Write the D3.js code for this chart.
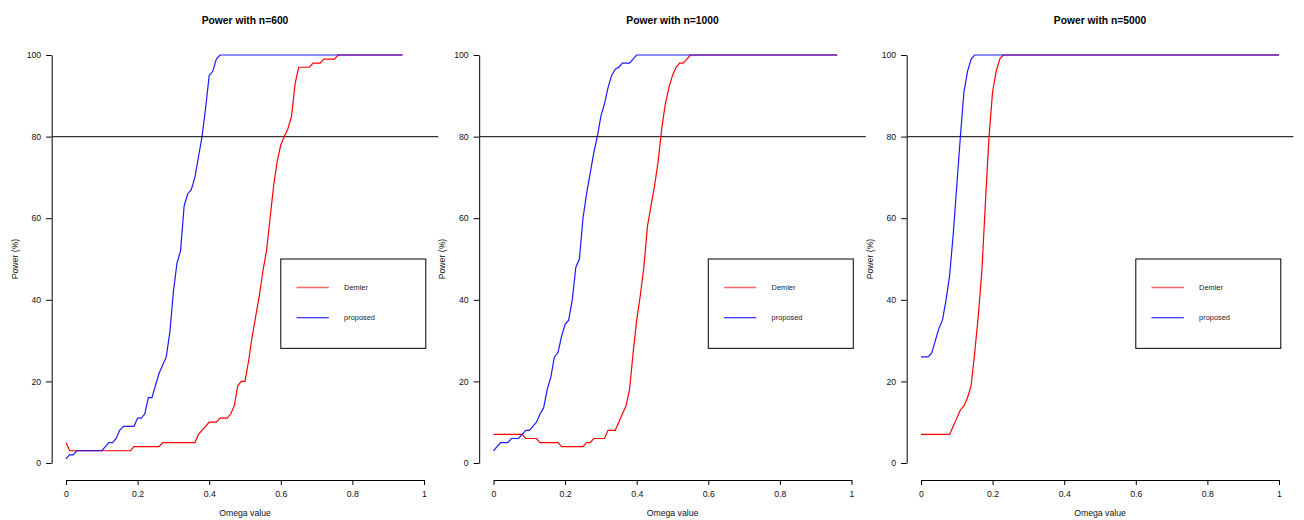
<!DOCTYPE html>
<html>
<head>
<meta charset="utf-8">
<script src="https://cdn.jsdelivr.net/npm/d3@7"></script>
<style>
  html, body { margin: 0; padding: 0; background: #fff; }
  svg { display: block; font-family: "Liberation Sans", Arial, Helvetica, sans-serif; }
</style>
</head>
<body>
<svg id="chart" width="1304" height="520"></svg>
<script>
// ---------------- data ----------------
const titles = ["Power with n=600", "Power with n=1000", "Power with n=5000"];
const seriesNames = ["Demler", "proposed"];
const xTicks = [0, 0.2, 0.4, 0.6, 0.8, 1];
const xTickLabels = ["0", "0.2", "0.4", "0.6", "0.8", "1"];
const yTicks = [0, 20, 40, 60, 80, 100];
const yTickLabels = ["0", "20", "40", "60", "80", "100"];
const targetPower = 80;

const omega = [0,0.01,0.02,0.03,0.04,0.05,0.06,0.07,0.08,0.09,
  0.10,0.11,0.12,0.13,0.14,0.15,0.16,0.17,0.18,0.19,
  0.20,0.21,0.22,0.23,0.24,0.25,0.26,0.27,0.28,0.29,
  0.30,0.31,0.32,0.33,0.34,0.35,0.36,0.37,0.38,0.39,
  0.40,0.41,0.42,0.43,0.44,0.45,0.46,0.47,0.48,0.49,
  0.50,0.51,0.52,0.53,0.54,0.55,0.56,0.57,0.58,0.59,
  0.60,0.61,0.62,0.63,0.64,0.65,0.66,0.67,0.68,0.69,
  0.70,0.71,0.72,0.73,0.74,0.75,0.76,0.77,0.78,0.79,
  0.80,0.81,0.82,0.83,0.84,0.85,0.86,0.87,0.88,0.89,
  0.90,0.91,0.92,0.93,0.94,0.95,0.96,0.97,0.98,0.99,1.00];

// n = 600 (omega 0 .. 0.94)
const demler600 = [5,
  3,3,3,3,3,3,3,3,3,3,3,3,3,3,3,3,3,3,
  4,4,4,4,4,4,4,4,
  5,5,5,5,5,5,5,5,5,5,
  7,8,9,10,10,10,11,11,11,12,
  14,19,20,20,25,31,36,41,47,52,
  60,68,74,78,80,82,85,93,97,97,
  97,97,98,98,98,99,99,99,99,
  100,100,100,100,100,100,100,100,100,100,100,100,100,100,100,100,100,100,100];
const proposed600 = [1,2,2,3,3,3,3,3,3,3,
  3,4,5,5,6,8,9,9,9,9,
  11,11,12,16,16,19,22,24,26,32,
  42,49,52,63,66,67,70,75,80,87,
  95,96,99,100,100,100,100,100,100,100,
  100,100,100,100,100,100,100,100,100,100,
  100,100,100,100,100,100,100,100,100,100,
  100,100,100,100,100,100,100,100,100,100,
  100,100,100,100,100,100,100,100,100,100,
  100,100,100,100,100];

// n = 1000 (omega 0 .. 0.96)
const demler1000 = [7,7,7,7,7,7,7,7,7,
  6,6,6,6,
  5,5,5,5,5,5,
  4,4,4,4,4,4,4,
  5,5,
  6,6,6,6,
  8,8,8,
  10,12,14,18,27,35,41,48,58,63,
  68,74,82,88,92,95,97,98,98,99,
  100,100,100,100,100,100,100,100,100,100,
  100,100,100,100,100,100,100,100,100,100,
  100,100,100,100,100,100,100,100,100,100,
  100,100,100,100,100,100,100,100,100,100,
  100,100];
const proposed1000 = [3,4,5,5,5,6,6,6,7,8,
  8,9,10,12,13.5,18,21,26,27,31,
  34,35,40,48,50,60,66,71,76,80,
  85,88,92,95,96.5,97,98,98,98,99,
  100,100,100,100,100,100,100,100,100,100,
  100,100,100,100,100,100,100,100,100,100,
  100,100,100,100,100,100,100,100,100,100,
  100,100,100,100,100,100,100,100,100,100,
  100,100,100,100,100,100,100,100,100,100,
  100,100,100,100,100,100,100];

// n = 5000 (omega 0 .. 1)
const demler5000 = [7,7,7,7,7,7,7,7,7,9,
  11,13,14,16,19,27,36,47,64,80,
  91,96,99,100,100,100,100,100,100,100,
  100,100,100,100,100,100,100,100,100,100,
  100,100,100,100,100,100,100,100,100,100,
  100,100,100,100,100,100,100,100,100,100,
  100,100,100,100,100,100,100,100,100,100,
  100,100,100,100,100,100,100,100,100,100,
  100,100,100,100,100,100,100,100,100,100,
  100,100,100,100,100,100,100,100,100,100,100];
const proposed5000 = [26,26,26,27,30,33,35,40,46,56,
  68,80,91,96,99,100,100,100,100,100,
  100,100,100,100,100,100,100,100,100,100,
  100,100,100,100,100,100,100,100,100,100,
  100,100,100,100,100,100,100,100,100,100,
  100,100,100,100,100,100,100,100,100,100,
  100,100,100,100,100,100,100,100,100,100,
  100,100,100,100,100,100,100,100,100,100,
  100,100,100,100,100,100,100,100,100,100,
  100,100,100,100,100,100,100,100,100,100,100];

const demlerSets = [demler600, demler1000, demler5000];
const proposedSets = [proposed600, proposed1000, proposed5000];
const legendAnchor = {x: 0.6, y: 50, y2: 28.1, x2: 1.005};
const legendRowValues = [43, 35.6];

// ---------------- layout ----------------
const colors = {Demler: "#ff0000", proposed: "#0000ff"};
const panelX0 = [66, 493.5, 921];
const panelSpan = 358;
const yTop = 55, yBottom = 463;
const xAxisY = 480;

const svg = d3.select("#chart");

titles.forEach((title, p) => {
  const x = d3.scaleLinear().domain([0, 1]).range([panelX0[p], panelX0[p] + panelSpan]);
  const y = d3.scaleLinear().domain([0, 100]).range([yBottom, yTop]);
  const g = svg.append("g");
  const regLeft = x(-0.04), regRight = x(1.04);

  // title
  g.append("text")
    .attr("x", (regLeft + regRight) / 2).attr("y", 23.5)
    .attr("text-anchor", "middle")
    .style("font-size", "10.3px").style("font-weight", "bold").attr("fill", "#000")
    .text(title);

  // y axis
  const yAxis = d3.axisLeft(y).tickValues(yTicks)
    .tickFormat((d, i) => yTickLabels[i]).tickSize(5.5).tickSizeOuter(0).tickPadding(5);
  const ya = g.append("g").attr("transform", `translate(${regLeft},0)`).call(yAxis);
  ya.selectAll("text").style("font-size", "8.7px").attr("fill", "#111");
  ya.selectAll("path, line").attr("stroke", "#000");

  // x axis
  const xAxis = d3.axisBottom(x).tickValues(xTicks)
    .tickFormat((d, i) => xTickLabels[i]).tickSize(5).tickSizeOuter(0).tickPadding(6);
  const xa = g.append("g").attr("transform", `translate(0,${xAxisY})`).call(xAxis);
  xa.selectAll("text").style("font-size", "8.7px").attr("fill", "#111");
  xa.selectAll("path, line").attr("stroke", "#000");

  // axis titles
  g.append("text")
    .attr("x", (regLeft + regRight) / 2).attr("y", 516)
    .attr("text-anchor", "middle").style("font-size", "8.7px").attr("fill", "#111")
    .text("Omega value");
  g.append("text")
    .attr("transform", `translate(${regLeft - 34},${(yTop + yBottom) / 2}) rotate(-90)`)
    .attr("text-anchor", "middle").style("font-size", "8.7px").attr("fill", "#111")
    .text("Power (%)");

  // reference line at 80
  g.append("line")
    .attr("x1", regLeft).attr("x2", regRight)
    .attr("y1", y(targetPower)).attr("y2", y(targetPower))
    .attr("stroke", "#333").attr("stroke-width", 1.4);

  // curves
  const line = d3.line().x(d => x(d[0])).y(d => y(d[1]));
  const dem = demlerSets[p].map((v, i) => [omega[i], v]);
  const pro = proposedSets[p].map((v, i) => [omega[i], v]);
  g.append("path").datum(dem).attr("d", line)
    .attr("fill", "none").attr("stroke", colors.Demler).attr("stroke-width", 1.2);
  g.append("path").datum(pro).attr("d", line)
    .attr("fill", "none").attr("stroke", colors.proposed).attr("stroke-width", 1.2)
    .attr("stroke-opacity", 0.9);

  // legend
  const lx1 = x(legendAnchor.x), lx2 = x(legendAnchor.x2);
  const ly1 = y(legendAnchor.y), ly2 = y(legendAnchor.y2);
  g.append("rect")
    .attr("x", lx1).attr("y", ly1).attr("width", lx2 - lx1).attr("height", ly2 - ly1)
    .attr("fill", "none").attr("stroke", "#000").attr("stroke-width", 1);
  seriesNames.forEach((name, k) => {
    const yy = y(legendRowValues[k]);
    g.append("line")
      .attr("x1", lx1 + 15.7).attr("x2", lx1 + 48)
      .attr("y1", yy).attr("y2", yy)
      .attr("stroke", colors[name]).attr("stroke-width", name === "Demler" ? 1.6 : 1.2)
      .attr("stroke-opacity", name === "Demler" ? 0.6 : 1);
    g.append("text")
      .attr("x", lx1 + 63.3).attr("y", yy + 2.6)
      .style("font-size", "7.4px").attr("fill", "#222")
      .text(name);
  });
});
</script>
</body>
</html>
